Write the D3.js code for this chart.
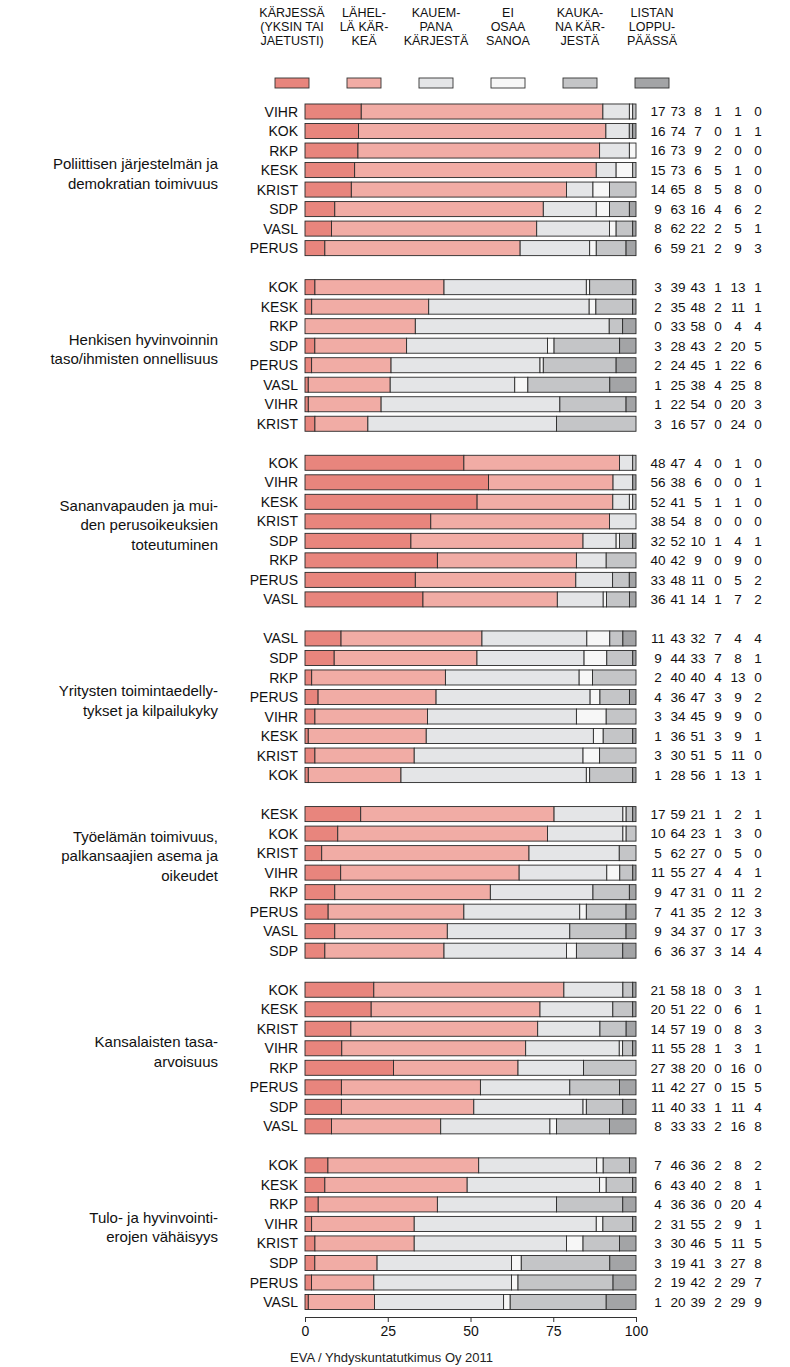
<!DOCTYPE html>
<html>
<head>
<meta charset="utf-8">
<script src="https://cdn.jsdelivr.net/npm/d3@7"></script>
<style>
  body { margin: 0; background: #fff; }
  svg { display: block; font-family: "Liberation Sans", Arial, sans-serif; }
</style>
</head>
<body>
<svg width="790" height="1367"></svg>
<script>
// legend headers, one array of lines per answer category
var legendLines = [
  ["KÄRJESSÄ", "(YKSIN TAI", "JAETUSTI)"],
  ["LÄHEL-", "LÄ KÄR-", "KEÄ"],
  ["KAUEM-", "PANA", "KÄRJESTÄ"],
  ["EI", "OSAA", "SANOA"],
  ["KAUKA-", "NA KÄR-", "JESTÄ"],
  ["LISTAN", "LOPPU-", "PÄÄSSÄ"]
];
var colors = ["#e8857d", "#f1aca5", "#e4e5e7", "#f7f7f7", "#c4c5c7", "#a3a4a6"];

// topic titles (lines as printed)
var topics = [
  ["Poliittisen järjestelmän ja", "demokratian toimivuus"],
  ["Henkisen hyvinvoinnin", "taso/ihmisten onnellisuus"],
  ["Sananvapauden ja mui-", "den perusoikeuksien", "toteutuminen"],
  ["Yritysten toimintaedelly-", "tykset ja kilpailukyky"],
  ["Työelämän toimivuus,", "palkansaajien asema ja", "oikeudet"],
  ["Kansalaisten tasa-", "arvoisuus"],
  ["Tulo- ja hyvinvointi-", "erojen vähäisyys"]
];

// rows: party, then % for the six categories
var politiikka = [
  ["VIHR", 17, 73, 8, 1, 1, 0],
  ["KOK", 16, 74, 7, 0, 1, 1],
  ["RKP", 16, 73, 9, 2, 0, 0],
  ["KESK", 15, 73, 6, 5, 1, 0],
  ["KRIST", 14, 65, 8, 5, 8, 0],
  ["SDP", 9, 63, 16, 4, 6, 2],
  ["VASL", 8, 62, 22, 2, 5, 1],
  ["PERUS", 6, 59, 21, 2, 9, 3]
];
var hyvinvointi = [
  ["KOK", 3, 39, 43, 1, 13, 1],
  ["KESK", 2, 35, 48, 2, 11, 1],
  ["RKP", 0, 33, 58, 0, 4, 4],
  ["SDP", 3, 28, 43, 2, 20, 5],
  ["PERUS", 2, 24, 45, 1, 22, 6],
  ["VASL", 1, 25, 38, 4, 25, 8],
  ["VIHR", 1, 22, 54, 0, 20, 3],
  ["KRIST", 3, 16, 57, 0, 24, 0]
];
var sananvapaus = [
  ["KOK", 48, 47, 4, 0, 1, 0],
  ["VIHR", 56, 38, 6, 0, 0, 1],
  ["KESK", 52, 41, 5, 1, 1, 0],
  ["KRIST", 38, 54, 8, 0, 0, 0],
  ["SDP", 32, 52, 10, 1, 4, 1],
  ["RKP", 40, 42, 9, 0, 9, 0],
  ["PERUS", 33, 48, 11, 0, 5, 2],
  ["VASL", 36, 41, 14, 1, 7, 2]
];
var yritykset = [
  ["VASL", 11, 43, 32, 7, 4, 4],
  ["SDP", 9, 44, 33, 7, 8, 1],
  ["RKP", 2, 40, 40, 4, 13, 0],
  ["PERUS", 4, 36, 47, 3, 9, 2],
  ["VIHR", 3, 34, 45, 9, 9, 0],
  ["KESK", 1, 36, 51, 3, 9, 1],
  ["KRIST", 3, 30, 51, 5, 11, 0],
  ["KOK", 1, 28, 56, 1, 13, 1]
];
var tyoelama = [
  ["KESK", 17, 59, 21, 1, 2, 1],
  ["KOK", 10, 64, 23, 1, 3, 0],
  ["KRIST", 5, 62, 27, 0, 5, 0],
  ["VIHR", 11, 55, 27, 4, 4, 1],
  ["RKP", 9, 47, 31, 0, 11, 2],
  ["PERUS", 7, 41, 35, 2, 12, 3],
  ["VASL", 9, 34, 37, 0, 17, 3],
  ["SDP", 6, 36, 37, 3, 14, 4]
];
var tasaarvo = [
  ["KOK", 21, 58, 18, 0, 3, 1],
  ["KESK", 20, 51, 22, 0, 6, 1],
  ["KRIST", 14, 57, 19, 0, 8, 3],
  ["VIHR", 11, 55, 28, 1, 3, 1],
  ["RKP", 27, 38, 20, 0, 16, 0],
  ["PERUS", 11, 42, 27, 0, 15, 5],
  ["SDP", 11, 40, 33, 1, 11, 4],
  ["VASL", 8, 33, 33, 2, 16, 8]
];
var tuloerot = [
  ["KOK", 7, 46, 36, 2, 8, 2],
  ["KESK", 6, 43, 40, 2, 8, 1],
  ["RKP", 4, 36, 36, 0, 20, 4],
  ["VIHR", 2, 31, 55, 2, 9, 1],
  ["KRIST", 3, 30, 46, 5, 11, 5],
  ["SDP", 3, 19, 41, 3, 27, 8],
  ["PERUS", 2, 19, 42, 2, 29, 7],
  ["VASL", 1, 20, 39, 2, 29, 9]
];
var groups = [politiikka, hyvinvointi, sananvapaus, yritykset, tyoelama, tasaarvo, tuloerot];
var xTicks = [0, 25, 50, 75, 100];
var source = "EVA / Yhdyskuntatutkimus Oy 2011";

var svg = d3.select("svg");

// one band per row, with an empty slot between topics
var slots = [];
groups.forEach(function(rows, g) {
  if (g > 0) slots.push("gap" + g);
  rows.forEach(function(r, i) { slots.push(g + "-" + i); });
});

var x = d3.scaleLinear().domain([0, 100]).range([305, 636]);
var y = d3.scaleBand().domain(slots).range([99.5, 1314]).padding(0.23);
var numX = d3.scalePoint().domain(d3.range(6)).range([658, 758]);
var legX = d3.scalePoint().domain(d3.range(6)).range([292, 652]);

// legend
var leg = svg.append("g").attr("class", "legend");
legendLines.forEach(function(lines, k) {
  leg.append("text")
      .attr("x", legX(k))
      .attr("y", 17)
      .attr("text-anchor", "middle")
      .attr("font-size", "12.5px")
      .attr("fill", "#111")
    .selectAll("tspan")
    .data(lines)
    .enter().append("tspan")
      .attr("x", legX(k))
      .attr("dy", function(d, i) { return i ? 14 : 0; })
      .text(function(d) { return d; });
  leg.append("rect")
      .attr("x", legX(k) - 17)
      .attr("y", 78)
      .attr("width", 34)
      .attr("height", 10)
      .attr("fill", colors[k])
      .attr("stroke", "#333")
      .attr("stroke-width", 0.9);
});

groups.forEach(function(rows, g) {
  var gg = svg.append("g").attr("class", "topic");

  rows.forEach(function(r, i) {
    var key = g + "-" + i;
    var vals = r.slice(1);
    var total = d3.sum(vals);
    var cum = 0;
    var segs = vals.map(function(v, k) {
      var s = { k: k, x0: cum / total * 100 };
      cum += v;
      s.x1 = cum / total * 100;
      return s;
    });

    gg.append("text")
        .attr("x", 298)
        .attr("y", y(key) + y.bandwidth() / 2)
        .attr("dy", "0.36em")
        .attr("text-anchor", "end")
        .attr("font-size", "14px")
        .attr("fill", "#111")
        .text(r[0]);

    gg.selectAll(".seg" + key)
      .data(segs.filter(function(s) { return s.x1 > s.x0; }))
      .enter().append("rect")
        .attr("x", function(s) { return x(s.x0); })
        .attr("y", y(key))
        .attr("width", function(s) { return x(s.x1) - x(s.x0); })
        .attr("height", y.bandwidth())
        .attr("fill", function(s) { return colors[s.k]; })
        .attr("stroke", "#2a2a2a")
        .attr("stroke-width", 0.9);

    gg.selectAll(".num" + key)
      .data(vals)
      .enter().append("text")
        .attr("x", function(d, k) { return numX(k); })
        .attr("y", y(key) + y.bandwidth() / 2)
        .attr("dy", "0.36em")
        .attr("text-anchor", "middle")
        .attr("font-size", "13.5px")
        .attr("fill", "#111")
        .text(function(d) { return d; });
  });

  // topic title, centred a bit above the middle of its bars
  // (the working-life title sits one line higher in the original)
  var top = y(g + "-0"), bottom = y(g + "-7") + y.bandwidth();
  var lines = topics[g];
  var mid = (top + bottom) / 2 - 6 - (g === 4 ? 20 : 0);
  gg.append("text")
      .attr("text-anchor", "end")
      .attr("font-size", "15px")
      .attr("fill", "#111")
    .selectAll("tspan")
    .data(lines)
    .enter().append("tspan")
      .attr("x", 218)
      .attr("y", function(d, i) { return mid + (i - (lines.length - 1) / 2) * 19.5 + 5; })
      .text(function(d) { return d; });
});

// x axis
var axis = svg.append("g")
    .attr("transform", "translate(0,1317)")
    .call(d3.axisBottom(x).tickValues(xTicks).tickSize(5).tickPadding(4).tickSizeOuter(0));
axis.select(".domain").attr("stroke", "#333");
axis.selectAll(".tick line").attr("stroke", "#333");
axis.selectAll(".tick text")
    .attr("font-size", "14px")
    .attr("font-family", "Liberation Sans, Arial, sans-serif")
    .attr("fill", "#111");

svg.append("text")
    .attr("x", 290)
    .attr("y", 1362)
    .attr("font-size", "13px")
    .attr("fill", "#222")
    .text(source);
</script>
</body>
</html>
